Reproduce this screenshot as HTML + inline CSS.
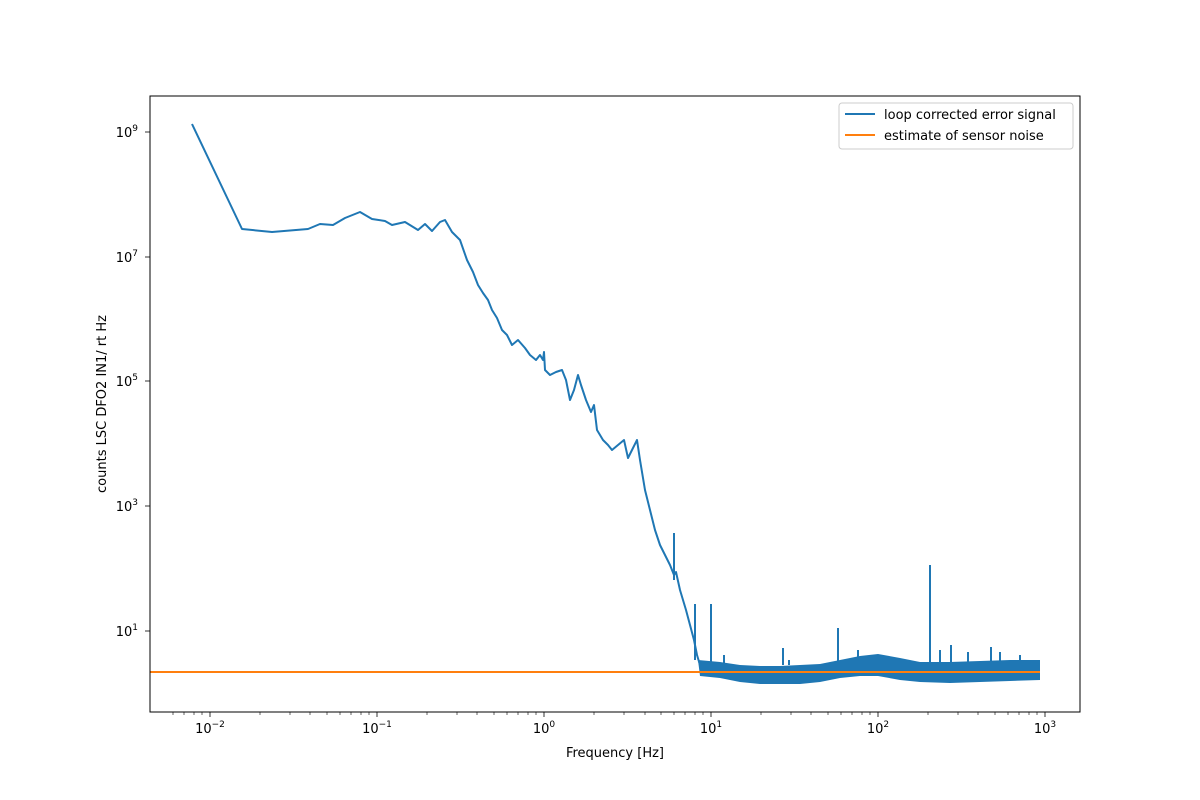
<!DOCTYPE html>
<html><head><meta charset="utf-8"><style>body{margin:0;background:#fff}svg{display:block}text{font-family:"DejaVu Sans","Liberation Sans",sans-serif;font-size:13px;fill:#000}</style></head><body>
<svg width="1200" height="800" viewBox="0 0 1200 800" xmlns="http://www.w3.org/2000/svg">
<rect width="1200" height="800" fill="#fff"/>
<defs><clipPath id="c"><rect x="150" y="96" width="930" height="616"/></clipPath></defs>
<g clip-path="url(#c)">
<polyline fill="none" stroke="#1f77b4" stroke-width="2" stroke-linejoin="round" points="192,124 242,229 272,232 308,229 320,224 333,225 345,218 360,212 372,219 385,221 392,225 405,222 418,230 425,224 432,231 440,222 445,220 452,232 460,240 467,260 473,272 478,285 483,293 488,300 492,310 497,318 502,330 507,335 512,345 518,340 525,348 530,355 536,360 540,355 543,360 544,352 545,370 550,375 556,372 562,370 566,380 570,400 574,390 578,375 581,385 586,400 591,412 594,405 597,430 603,440 608,445 612,450 618,445 624,440 628,458 633,448 637,440 640,460 645,490 650,510 655,530 660,545 665,555 670,565 674,575 676,572 680,590 686,610 690,625 694,640 697,655 700,665"/>
<polygon fill="#1f77b4" points="698,660 720,662 740,665 760,666 780,666 800,665 820,664 840,660 860,656 878,654 900,658 920,662 950,662 980,661 1010,660 1040,660 1040,680 1010,681 980,682 950,683 920,682 900,680 878,676 860,676 840,678 820,682 800,684 780,684 760,684 740,682 720,678 700,676"/>
<g stroke="#1f77b4" stroke-width="2">
<line x1="674" y1="533" x2="674" y2="580"/><line x1="695" y1="604" x2="695" y2="660"/><line x1="711" y1="604" x2="711" y2="665"/><line x1="724" y1="655" x2="724" y2="665"/><line x1="783" y1="648" x2="783" y2="665"/><line x1="789" y1="660" x2="789" y2="665"/><line x1="838" y1="628" x2="838" y2="662"/><line x1="930" y1="565" x2="930" y2="665"/><line x1="940" y1="650" x2="940" y2="665"/><line x1="951" y1="645" x2="951" y2="665"/><line x1="968" y1="652" x2="968" y2="665"/><line x1="991" y1="647" x2="991" y2="665"/><line x1="1000" y1="652" x2="1000" y2="665"/><line x1="1020" y1="655" x2="1020" y2="665"/><line x1="858" y1="650" x2="858" y2="660"/>
</g>
<line x1="150" y1="672" x2="1040" y2="672" stroke="#ff7f0e" stroke-width="2"/>
</g>
<rect x="150" y="96" width="930" height="616" fill="none" stroke="#000" stroke-width="1"/>
<g stroke="#000" stroke-width="0.8">
<line x1="210" y1="712" x2="210" y2="717"/><line x1="377" y1="712" x2="377" y2="717"/><line x1="544" y1="712" x2="544" y2="717"/><line x1="711" y1="712" x2="711" y2="717"/><line x1="878" y1="712" x2="878" y2="717"/><line x1="1045" y1="712" x2="1045" y2="717"/>
<line x1="145" y1="132" x2="150" y2="132"/><line x1="145" y1="257" x2="150" y2="257"/><line x1="145" y1="381" x2="150" y2="381"/><line x1="145" y1="506" x2="150" y2="506"/><line x1="145" y1="631" x2="150" y2="631"/>
</g>
<g stroke="#000" stroke-width="0.6">
<path d="M173 712v3M184 712v3M194 712v3M202 712v3M260 712v3M290 712v3M310 712v3M327 712v3M340 712v3M351 712v3M361 712v3M369 712v3M427 712v3M457 712v3M477 712v3M494 712v3M507 712v3M518 712v3M528 712v3M536 712v3M594 712v3M624 712v3M645 712v3M661 712v3M674 712v3M685 712v3M695 712v3M703 712v3M761 712v3M791 712v3M811 712v3M828 712v3M841 712v3M852 712v3M862 712v3M870 712v3M928 712v3M958 712v3M978 712v3M995 712v3M1008 712v3M1019 712v3M1029 712v3M1037 712v3"/>
</g>
<g text-anchor="middle">
<text x="210" y="733">10<tspan dy="-6" font-size="9">−2</tspan></text>
<text x="377" y="733">10<tspan dy="-6" font-size="9">−1</tspan></text>
<text x="544" y="733">10<tspan dy="-6" font-size="9">0</tspan></text>
<text x="711" y="733">10<tspan dy="-6" font-size="9">1</tspan></text>
<text x="878" y="733">10<tspan dy="-6" font-size="9">2</tspan></text>
<text x="1045" y="733">10<tspan dy="-6" font-size="9">3</tspan></text>
<text x="615" y="757">Frequency [Hz]</text>
</g>
<g text-anchor="end">
<text x="138" y="137">10<tspan dy="-6" font-size="9">9</tspan></text>
<text x="138" y="262">10<tspan dy="-6" font-size="9">7</tspan></text>
<text x="138" y="386">10<tspan dy="-6" font-size="9">5</tspan></text>
<text x="138" y="511">10<tspan dy="-6" font-size="9">3</tspan></text>
<text x="138" y="636">10<tspan dy="-6" font-size="9">1</tspan></text>
</g>
<text transform="translate(106,404) rotate(-90)" text-anchor="middle">counts LSC DFO2 IN1/ rt Hz</text>
<rect x="839" y="103" width="234" height="46" rx="3" fill="#fff" stroke="#ccc"/>
<line x1="845" y1="114" x2="875" y2="114" stroke="#1f77b4" stroke-width="2"/>
<line x1="845" y1="135" x2="875" y2="135" stroke="#ff7f0e" stroke-width="2"/>
<text x="884" y="119">loop corrected error signal</text>
<text x="884" y="140">estimate of sensor noise</text>
</svg>
</body></html>
